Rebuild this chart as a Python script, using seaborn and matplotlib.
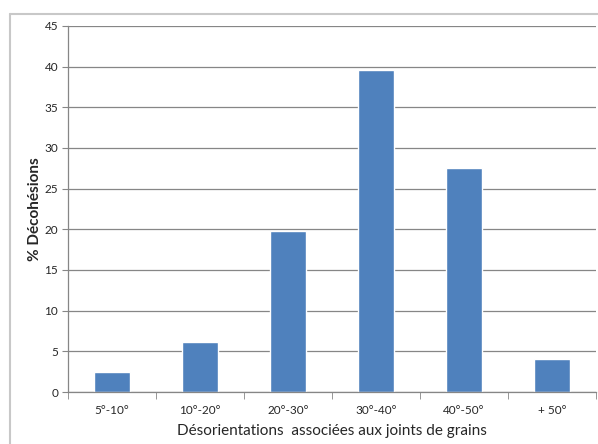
import matplotlib
matplotlib.use('Agg')
import matplotlib.pyplot as plt
from matplotlib.lines import Line2D
import numpy as np
import pandas
import seaborn as sns

categories = ['5°-10°', '10°-20°', '20°-30°', '30°-40°', '40°-50°', '+ 50°']
pourcentages = [2.5, 6.2, 19.8, 39.6, 27.6, 4.1]
yticks = [0, 5, 10, 15, 20, 25, 30, 35, 40, 45]

sns.set_style('white')
plt.rcParams['font.family'] = ['Lato', 'DejaVu Sans']

df = pandas.DataFrame({'categorie': categories, 'pourcentage': pourcentages})

fig = plt.figure(figsize=(5.98, 4.44), dpi=100)
ax = fig.add_axes([68 / 598, 1 - 392 / 444, 528 / 598, 366 / 444])

gris = '#868686'
ax.set_ylim(0, 45)
ax.set_yticks(yticks)
ax.yaxis.grid(True, color=gris, linewidth=0.9)
ax.set_axisbelow(True)

sns.barplot(data=df, x='categorie', y='pourcentage', color='#4F81BD',
            width=0.4, saturation=1, ax=ax)
ax.set_xlim(-0.5, len(categories) - 0.5)

for s in ['top', 'right']:
    ax.spines[s].set_visible(False)
for s in ['left', 'bottom']:
    ax.spines[s].set_color(gris)
    ax.spines[s].set_linewidth(0.9)

ax.tick_params(axis='y', length=4, color=gris, labelsize=8.5, pad=3, direction='out', left=True)
ax.tick_params(axis='x', which='major', length=0, labelsize=8.5, pad=9)
ax.set_xticks(np.arange(-0.5, len(categories)), minor=True)
ax.tick_params(axis='x', which='minor', length=5, color=gris, direction='out', bottom=True)

ax.set_xlabel('Désorientations  associées aux joints de grains', fontsize=11, labelpad=6)
ax.set_ylabel('% Décohésions', fontsize=11, fontweight='bold', labelpad=2)

# bordure du graphique
fig.add_artist(Line2D([10 / 598, 1], [1 - 14 / 444] * 2, color='#C8C8C8', linewidth=1.5, transform=fig.transFigure))
fig.add_artist(Line2D([10 / 598] * 2, [0, 1 - 14 / 444], color='#C8C8C8', linewidth=1.5, transform=fig.transFigure))

fig.savefig('out.png', dpi=100)
